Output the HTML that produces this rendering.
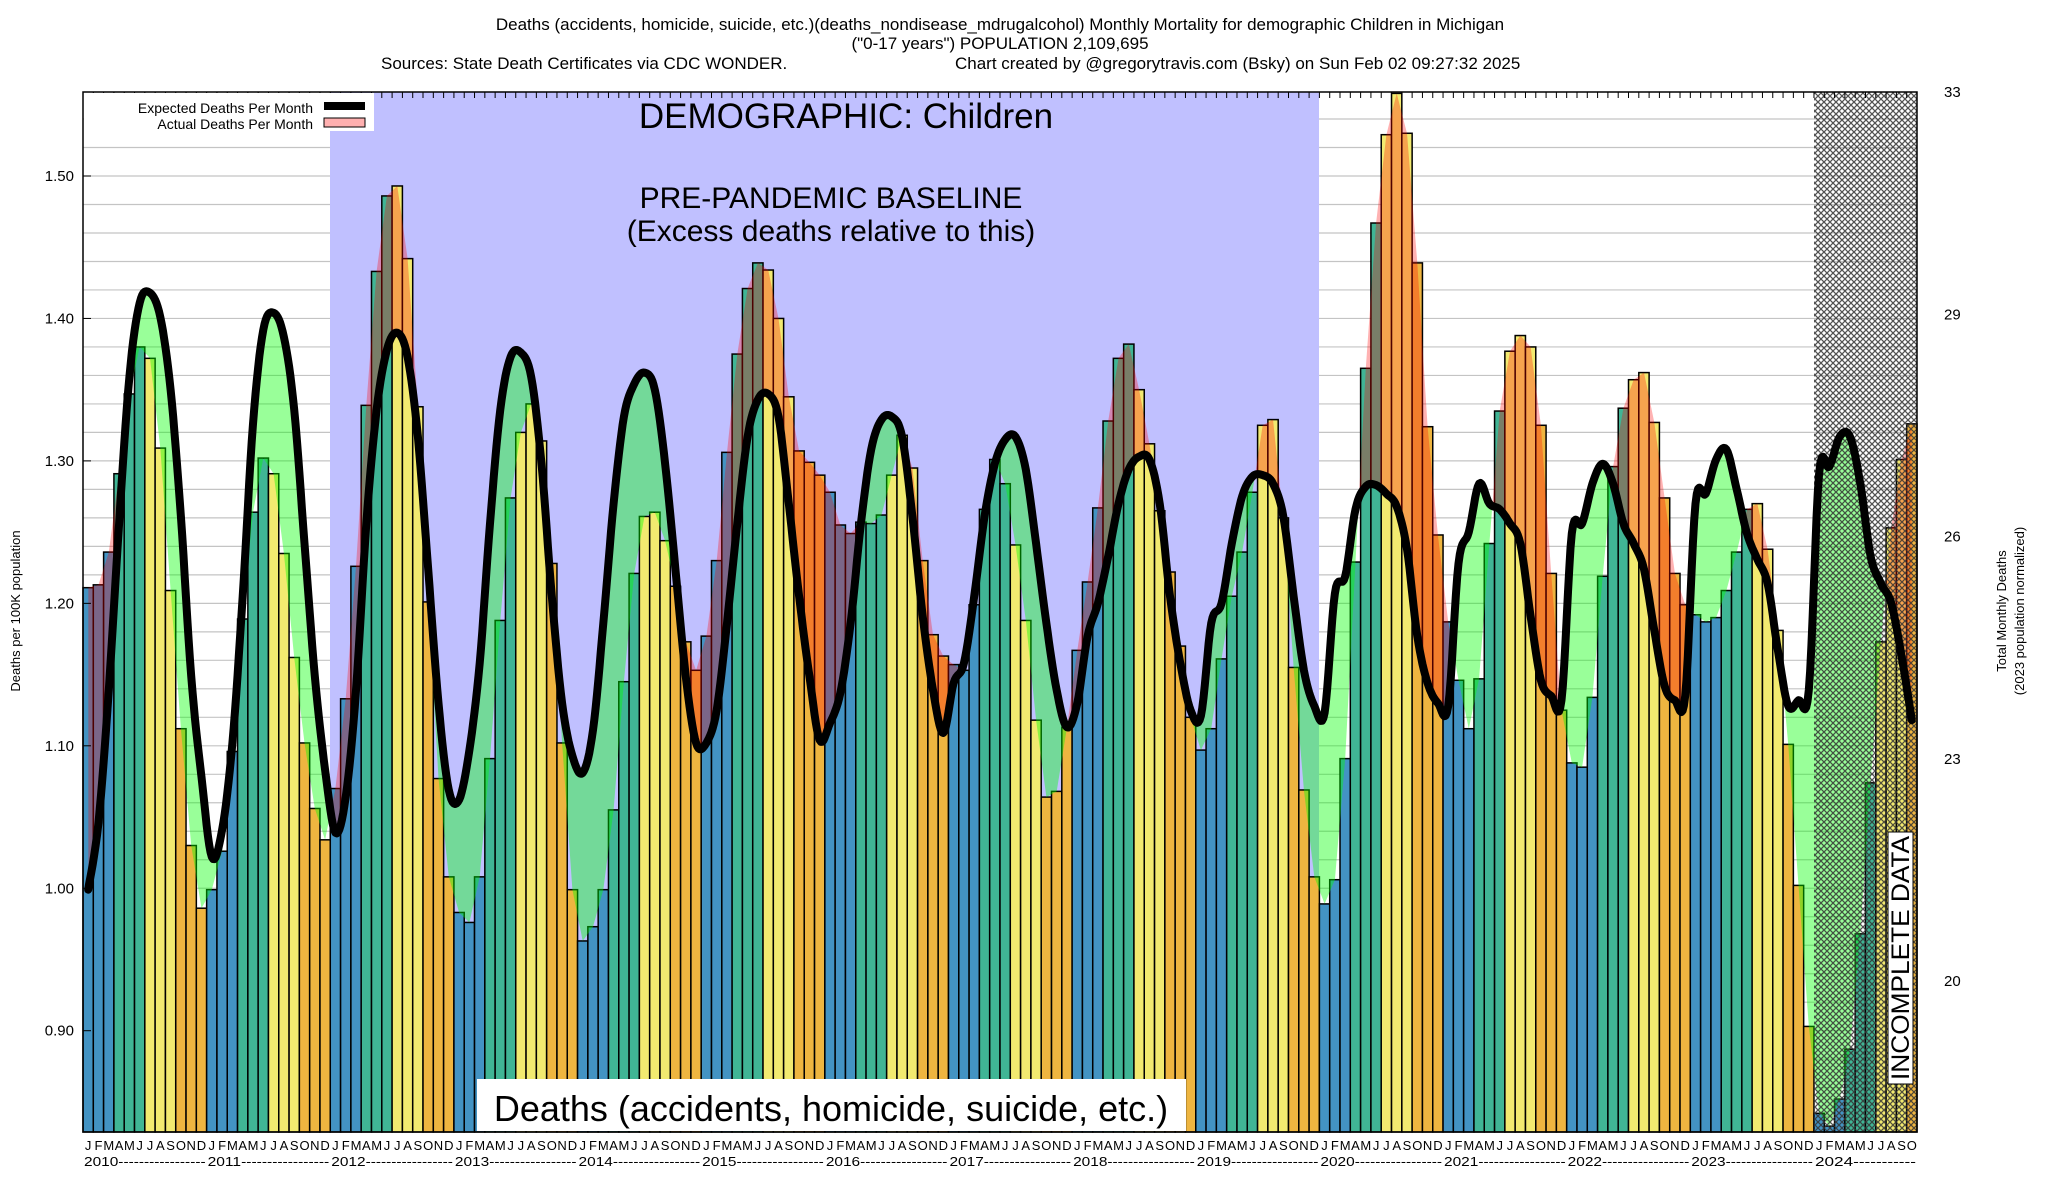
<!DOCTYPE html>
<html><head><meta charset="utf-8"><style>
html,body{margin:0;padding:0;background:#fff;}
svg{display:block;font-family:"Liberation Sans",Arial,sans-serif;}
</style></head><body>
<svg id="chart" width="2048" height="1200" viewBox="0 0 2048 1200" xmlns="http://www.w3.org/2000/svg">
<defs>
<pattern id="hatch" width="6" height="6" patternUnits="userSpaceOnUse">
<path d="M0,0 L6,6 M6,0 L0,6" stroke="#333" stroke-width="1.3" fill="none"/>
</pattern>
<clipPath id="plotClip"><rect x="83" y="92" width="1834" height="1040"/></clipPath>
<clipPath id="clipAbove"><polygon id="clipAbovePoly" points=""/></clipPath>
<clipPath id="clipBelow"><polygon id="clipBelowPoly" points=""/></clipPath>
</defs>
<g font-size="17" fill="#000">
<text x="1000" y="30" text-anchor="middle">Deaths (accidents, homicide, suicide, etc.)(deaths_nondisease_mdrugalcohol) Monthly Mortality for demographic Children in Michigan</text>
<text x="1000" y="49" text-anchor="middle">("0-17 years") POPULATION 2,109,695</text>
<text x="381" y="69">Sources: State Death Certificates via CDC WONDER.</text>
<text x="955" y="69">Chart created by @gregorytravis.com (Bsky) on Sun Feb 02 09:27:32 2025</text>
</g>
<g id="grid"></g>
<rect x="330" y="92" width="989" height="1040" fill="#c0c0ff"/>
<g id="bars"></g>
<g id="fills" clip-path="url(#plotClip)"></g>
<rect x="1814" y="92" width="103" height="1040" fill="url(#hatch)" opacity="0.85"/>
<g id="lineg" clip-path="url(#plotClip)"></g>
<rect x="83" y="92" width="1834" height="1040" fill="none" stroke="#000" stroke-width="1.5"/>
<g id="ticks"></g>
<g>
<rect x="84" y="93" width="290" height="38" fill="#fff"/>
<text x="313" y="113" text-anchor="end" font-size="14">Expected Deaths Per Month</text>
<rect x="324" y="102" width="41" height="8" fill="#000"/>
<text x="313" y="129" text-anchor="end" font-size="14">Actual Deaths Per Month</text>
<rect x="324" y="118" width="41" height="9" fill="#ffb0b0" stroke="#000" stroke-width="1"/>
</g>
<text x="846" y="128" text-anchor="middle" font-size="35">DEMOGRAPHIC: Children</text>
<text x="831" y="208" text-anchor="middle" font-size="30">PRE-PANDEMIC BASELINE</text>
<text x="831" y="241" text-anchor="middle" font-size="30">(Excess deaths relative to this)</text>
<rect x="477" y="1079" width="709" height="52" fill="#fff"/>
<text x="831" y="1121" text-anchor="middle" font-size="36">Deaths (accidents, homicide, suicide, etc.)</text>
<g>
<rect x="1888" y="832" width="25" height="252" fill="#fff" stroke="#000" stroke-width="1"/>
<text transform="translate(1909,958) rotate(-90)" text-anchor="middle" font-size="25" textLength="244" lengthAdjust="spacingAndGlyphs">INCOMPLETE DATA</text>
</g>
<text transform="translate(20,611) rotate(-90)" text-anchor="middle" font-size="13">Deaths per 100K population</text>
<text transform="translate(2006,611) rotate(-90)" text-anchor="middle" font-size="13">Total Monthly Deaths</text>
<text transform="translate(2024,611) rotate(-90)" text-anchor="middle" font-size="13">(2023 population normalized)</text>
<g id="ylabels" font-size="15"></g>
<g id="rlabels" font-size="15"></g>
<g id="xlabels" font-size="13"></g>
</svg>
<script>
const years = [2010,2011,2012,2013,2014,2015,2016,2017,2018,2019,2020,2021,2022,2023,2024];
const monthLetters = ["J","F","M","A","M","J","J","A","S","O","N","D"];
const yTicks = [0.90,1.00,1.10,1.20,1.30,1.40,1.50];
const rightTickLabels = ["33","29","26","23","20"];
const actual = [
1.211,1.213,1.236,1.291,1.347,1.380,1.372,1.309,1.209,1.112,1.030,0.986,
0.999,1.026,1.096,1.189,1.264,1.302,1.291,1.235,1.162,1.102,1.056,1.034,
1.070,1.133,1.226,1.339,1.433,1.486,1.493,1.442,1.338,1.201,1.077,1.008,
0.983,0.976,1.008,1.091,1.188,1.274,1.320,1.340,1.314,1.228,1.102,0.999,
0.963,0.973,0.999,1.055,1.145,1.221,1.261,1.264,1.244,1.212,1.173,1.153,
1.177,1.230,1.306,1.375,1.421,1.439,1.434,1.400,1.345,1.307,1.299,1.290,
1.278,1.255,1.249,1.257,1.256,1.262,1.290,1.318,1.295,1.230,1.178,1.163,
1.157,1.153,1.199,1.266,1.301,1.284,1.241,1.188,1.118,1.064,1.068,1.113,
1.167,1.215,1.267,1.328,1.372,1.382,1.350,1.312,1.265,1.222,1.170,1.120,
1.097,1.112,1.161,1.205,1.236,1.278,1.325,1.329,1.260,1.155,1.069,1.008,
0.989,1.006,1.091,1.229,1.365,1.467,1.529,1.558,1.530,1.439,1.324,1.248,
1.187,1.146,1.112,1.147,1.242,1.335,1.377,1.388,1.380,1.325,1.221,1.125,
1.088,1.085,1.134,1.219,1.296,1.337,1.357,1.362,1.327,1.274,1.221,1.199,
1.192,1.187,1.190,1.209,1.236,1.266,1.270,1.238,1.181,1.101,1.002,0.903,
0.842,0.833,0.852,0.887,0.968,1.074,1.173,1.253,1.301,1.326];
const expected = [
0.999,1.046,1.139,1.256,1.359,1.411,1.418,1.401,1.350,1.261,1.149,1.078,
1.022,1.041,1.102,1.205,1.326,1.392,1.404,1.387,1.336,1.242,1.149,1.083,
1.039,1.064,1.139,1.256,1.336,1.378,1.390,1.373,1.317,1.224,1.130,1.069,
1.062,1.097,1.158,1.256,1.336,1.373,1.376,1.359,1.298,1.205,1.130,1.093,
1.081,1.111,1.186,1.270,1.331,1.354,1.362,1.350,1.298,1.224,1.149,1.102,
1.102,1.125,1.186,1.256,1.317,1.343,1.347,1.331,1.270,1.205,1.149,1.104,
1.116,1.137,1.186,1.256,1.308,1.329,1.331,1.317,1.261,1.191,1.139,1.109,
1.144,1.158,1.205,1.261,1.298,1.315,1.317,1.294,1.242,1.186,1.139,1.113,
1.130,1.177,1.200,1.233,1.270,1.294,1.303,1.301,1.270,1.205,1.158,1.125,
1.121,1.186,1.200,1.242,1.275,1.289,1.290,1.284,1.261,1.205,1.153,1.128,
1.123,1.207,1.219,1.266,1.282,1.283,1.277,1.268,1.238,1.177,1.144,1.130,
1.128,1.228,1.250,1.284,1.270,1.266,1.256,1.242,1.191,1.146,1.135,1.132,
1.249,1.256,1.284,1.298,1.284,1.256,1.242,1.224,1.181,1.142,1.132,1.135,
1.270,1.277,1.301,1.308,1.280,1.249,1.231,1.214,1.167,1.128,1.132,1.139,
1.291,1.296,1.317,1.317,1.284,1.233,1.214,1.200,1.163,1.118];

const NS = "http://www.w3.org/2000/svg";
const X0 = 83, PR = 1917, PT = 92, PB = 1132;
const N = actual.length;
const W = (PR - X0) / 178;
function xs(i){ return X0 + i * W; }
function xc(i){ return X0 + (i + 0.5) * W; }
function ys(v){ return 176 + (1.50 - v) * 1424.5; }
function mk(tag, attrs, parent){ const e = document.createElementNS(NS, tag); for (const k in attrs) e.setAttribute(k, attrs[k]); parent.appendChild(e); return e; }
const colors = ["#4393c3","#4393c3","#4393c3","#40b595","#40b595","#40b595","#f2ea70","#f2ea70","#f2ea70","#eeb540","#eeb540","#eeb540"];

const grid = document.getElementById('grid');
for (let k = 0; k <= 36; k++) {
  const v = 0.84 + k * 0.02;
  const y = ys(v);
  if (y <= PT + 1 || y >= PB) continue;
  const l = mk('line', {x1: X0, x2: PR, y1: y, y2: y, stroke: '#c4c4c4', 'stroke-width': 1.2}, grid);
  
  
}

const bars = document.getElementById('bars');
for (let i = 0; i < N; i++) {
  const y = ys(actual[i]);
  const r = mk('rect', {x: xs(i), y: Math.max(y, PT), width: W, height: PB - Math.max(y, PT), fill: colors[i % 12], stroke: '#000', 'stroke-width': 1.5}, bars);
  
  
}

// smooth expected line (Catmull-Rom sampled)
const expPts = [];
for (let i = 0; i < expected.length - 1; i++) {
  const p0 = [xc(Math.max(i-1,0)), ys(expected[Math.max(i-1,0)])];
  const p1 = [xc(i), ys(expected[i])];
  const p2 = [xc(i+1), ys(expected[i+1])];
  const p3 = [xc(Math.min(i+2,expected.length-1)), ys(expected[Math.min(i+2,expected.length-1)])];
  for (let s = 0; s < 8; s++) {
    const t = s / 8, t2 = t*t, t3 = t2*t;
    const f = (a,b,c,d) => 0.5*((2*b) + (-a+c)*t + (2*a-5*b+4*c-d)*t2 + (-a+3*b-3*c+d)*t3);
    expPts.push([f(p0[0],p1[0],p2[0],p3[0]), f(p0[1],p1[1],p2[1],p3[1])]);
  }
}
expPts.push([xc(expected.length-1), ys(expected[expected.length-1])]);
const actPts = actual.map((v, i) => [xc(i), ys(v)]);
const ptsStr = a => a.map(p => p[0].toFixed(1) + ',' + p[1].toFixed(1)).join(' ');

const ex0 = expPts[0][0], exN = expPts[expPts.length-1][0];
document.getElementById('clipAbovePoly').setAttribute('points', ptsStr(expPts) + ' ' + exN + ',0 ' + ex0 + ',0');
document.getElementById('clipBelowPoly').setAttribute('points', ptsStr(expPts) + ' ' + exN + ',1200 ' + ex0 + ',1200');
const between = ptsStr(actPts) + ' ' + ptsStr(expPts.slice().reverse());
const fills = document.getElementById('fills');
const gf = mk('polygon', {points: between, fill: 'rgb(0,255,0)', 'fill-opacity': 0.4, 'fill-rule': 'evenodd', 'clip-path': 'url(#clipBelow)'}, fills);


const pf = mk('polygon', {points: between, fill: 'rgb(255,0,0)', 'fill-opacity': 0.3, 'fill-rule': 'evenodd', 'clip-path': 'url(#clipAbove)'}, fills);



const line = mk('polyline', {points: ptsStr(expPts), fill: 'none', stroke: '#000', 'stroke-width': 8, 'stroke-linejoin': 'round', 'stroke-linecap': 'round'}, document.getElementById('lineg'));



const ticks = document.getElementById('ticks');
for (let i = 1; i < 178; i++) {
  const t = mk('line', {x1: xs(i), x2: xs(i), y1: PT, y2: PT + 6, stroke: '#000', 'stroke-width': 1}, ticks);
  
  
}
const yl = document.getElementById('ylabels');
yTicks.forEach(v => {
  const y = ys(v);
  const t = mk('text', {x: 74, y: y + 5, 'text-anchor': 'end'}, yl);
  t.textContent = v.toFixed(2);
  
  
  const tk = mk('line', {x1: X0, x2: X0 + 8, y1: y, y2: y, stroke: '#000', 'stroke-width': 1}, ticks);
  
  
});
const rl = document.getElementById('rlabels');
rightTickLabels.forEach((s, k) => {
  const y = 92 + k * 222.3;
  const t = mk('text', {x: 1944, y: y + 5}, rl);
  t.textContent = s;
  
  
});
const xl = document.getElementById('xlabels');
for (let i = 0; i < N; i++) {
  const t = mk('text', {x: xc(i), y: 1150, 'text-anchor': 'middle'}, xl);
  t.textContent = monthLetters[i % 12];
  
  
}
years.forEach((yr, k) => {
  const start = k * 12;
  const months = Math.min(12, N - start);
  const t = mk('text', {x: xs(start) + 1, y: 1166, textLength: (months * W - 2).toFixed(1), lengthAdjust: 'spacingAndGlyphs'}, xl);
  t.textContent = yr + (months === 12 ? '-----------------' : '-----------');
  
  
});
</script>
</body></html>
